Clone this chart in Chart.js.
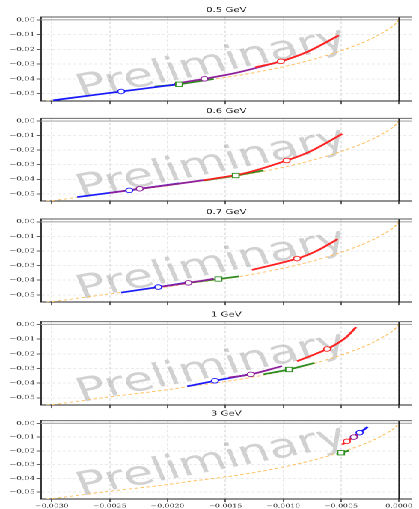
<!DOCTYPE html>
<html><head><meta charset="utf-8">
<script src="https://cdn.jsdelivr.net/npm/chart.js@4.4.1/dist/chart.umd.min.js"></script>
<style>
html,body{margin:0;padding:0;background:#fff;width:419px;height:509px;overflow:hidden;}
#stage{position:absolute;left:0;top:0;width:280px;height:509px;transform:scaleX(1.49643);transform-origin:0 0;}
.panel{position:absolute;left:0;width:280px;}
</style></head><body><div id="stage"></div>
<script>
// ---------- data ----------
const panelTitles = ["0.5 GeV", "0.6 GeV", "0.7 GeV", "1 GeV", "3 GeV"];
const xTickValues = [-0.0030, -0.0025, -0.0020, -0.0015, -0.0010, -0.0005, 0.0];
const xTickLabels = ["\u22120.0030", "\u22120.0025", "\u22120.0020", "\u22120.0015", "\u22120.0010", "\u22120.0005", "0.0000"];
const yTickValues = [0.00, -0.01, -0.02, -0.03, -0.04, -0.05];
const yTickLabels = ["0.00", "\u22120.01", "\u22120.02", "\u22120.03", "\u22120.04", "\u22120.05"];

const orangeCurve = [[-0.0031,-0.0555],[-0.0030,-0.0547],[-0.0025,-0.0494],[-0.0020,-0.0445],[-0.0018,-0.0421],
  [-0.0015,-0.0390],[-0.0012,-0.0350],[-0.0010,-0.0318],[-0.0008,-0.0280],[-0.0006,-0.0235],[-0.0005,-0.0209],
  [-0.0004,-0.0181],[-0.0003,-0.0150],[-0.0002,-0.0113],[-0.0001,-0.0068],[-0.00005,-0.0042],[-0.00002,-0.0018],[0.0,0.0]];

// 0.5 GeV
const blue05   = [[-0.00299,-0.0545],[-0.0027,-0.0515],[-0.0024,-0.0485],[-0.0021,-0.0455],[-0.0019,-0.0435]];
const purple05 = [[-0.00194,-0.0432],[-0.00168,-0.0399],[-0.0014,-0.0358],[-0.00101,-0.0279]];
const green05  = [[-0.00211,-0.0452],[-0.0019,-0.0436],[-0.0016,-0.0400]];
const red05    = [[-0.00124,-0.0321],[-0.00102,-0.0281],[-0.00079,-0.0216],[-0.00052,-0.0106]];
const marks05  = [[-0.0024,-0.0485],[-0.00168,-0.0399],[-0.0019,-0.0436],[-0.00102,-0.0281]];
// 0.6 GeV
const blue06   = [[-0.00278,-0.0522],[-0.00233,-0.0476],[-0.0021,-0.0450],[-0.0019,-0.0428]];
const purple06 = [[-0.0025,-0.0494],[-0.00224,-0.0465],[-0.0019,-0.0430],[-0.00168,-0.0405]];
const green06  = [[-0.00169,-0.0409],[-0.00141,-0.0374],[-0.00117,-0.0339]];
const red06    = [[-0.00169,-0.0407],[-0.00132,-0.0356],[-0.00097,-0.0271],[-0.00076,-0.0206],[-0.00049,-0.0088]];
const marks06  = [[-0.00233,-0.0476],[-0.00224,-0.0465],[-0.00141,-0.0374],[-0.00097,-0.0271]];
// 0.7 GeV
const blue07   = [[-0.0024,-0.0485],[-0.00208,-0.0447],[-0.0018,-0.0412]];
const purple07 = [[-0.00205,-0.0444],[-0.00182,-0.0418],[-0.0016,-0.0390]];
const green07  = [[-0.0018,-0.0416],[-0.00156,-0.0392],[-0.00138,-0.0374]];
const red07    = [[-0.00127,-0.0330],[-0.00088,-0.0252],[-0.00070,-0.0195],[-0.00053,-0.0119]];
const marks07  = [[-0.00208,-0.0447],[-0.00182,-0.0418],[-0.00156,-0.0392],[-0.00088,-0.0252]];
// 1 GeV
const blue1    = [[-0.00183,-0.0422],[-0.00159,-0.0384],[-0.0013,-0.0342]];
const purple1  = [[-0.00147,-0.0362],[-0.00128,-0.0340],[-0.00101,-0.0284]];
const green1   = [[-0.00117,-0.0340],[-0.00095,-0.0307],[-0.00073,-0.0262]];
const red1     = [[-0.00088,-0.0251],[-0.00062,-0.0167],[-0.00047,-0.0096],[-0.00037,-0.0018]];
const marks1   = [[-0.00159,-0.0384],[-0.00128,-0.0340],[-0.00095,-0.0307],[-0.00062,-0.0167]];
// 3 GeV
const blue3    = [[-0.00041,-0.0104],[-0.00034,-0.0068],[-0.00027,-0.0026]];
const purple3  = [[-0.00043,-0.0118],[-0.00039,-0.0100],[-0.00036,-0.0085]];
const green3   = [[-0.00054,-0.0226],[-0.0005,-0.0214],[-0.00043,-0.0198]];
const red3     = [[-0.00049,-0.0155],[-0.00045,-0.0131],[-0.00035,-0.0076]];
const marks3   = [[-0.00034,-0.0068],[-0.00039,-0.0100],[-0.0005,-0.0214],[-0.00045,-0.0131]];

// ---------- styles / layout ----------
const COL = {blue:'#1a1aff', purple:'#8e1f9a', green:'#2e8b1f', red:'#ff2222', orange:'#ffbf5e'};
const panelTop = [0, 101, 202, 304, 403];
const panelH   = [106, 105, 105, 106, 106];
const padTop   = [17, 17.3, 17, 17.7, 17.7];

const panels = [
  {blue:blue05, purple:purple05, green:green05, red:red05, marks:marks05},
  {blue:blue06, purple:purple06, green:green06, red:red06, marks:marks06},
  {blue:blue07, purple:purple07, green:green07, red:red07, marks:marks07},
  {blue:blue1,  purple:purple1,  green:green1,  red:red1,  marks:marks1},
  {blue:blue3,  purple:purple3,  green:green3,  red:red3,  marks:marks3}
];

const toXY = arr => arr.map(p => ({x:p[0], y:p[1]}));

const decor = {
  id: 'decor',
  beforeDatasetsDraw(chart) {
    const {ctx, chartArea:a} = chart;
    // watermark
    ctx.save();
    ctx.beginPath(); ctx.rect(a.left, a.top, a.right - a.left, a.bottom - a.top); ctx.clip();
    ctx.translate(a.left + 27, a.bottom - 3);
    ctx.rotate(-16 * Math.PI / 180);
    ctx.font = '33px "DejaVu Sans"';
    ctx.fillStyle = 'rgba(140,140,140,0.40)';
    ctx.textBaseline = 'alphabetic';
    ctx.textAlign = 'left';
    ctx.fillText('Preliminary', 0, 0);
    ctx.restore();
    // y = 0 line
    const y0 = chart.scales.y.getPixelForValue(0);
    ctx.save();
    ctx.strokeStyle = '#a8a8a8'; ctx.lineWidth = 1.1;
    ctx.beginPath(); ctx.moveTo(a.left, y0); ctx.lineTo(a.right, y0); ctx.stroke();
    ctx.restore();
  },
  afterDatasetsDraw(chart) {
    const {ctx, chartArea:a} = chart;
    const x0 = chart.scales.x.getPixelForValue(0);
    ctx.save();
    ctx.strokeStyle = '#111'; ctx.lineWidth = 0.75;
    ctx.beginPath(); ctx.moveTo(x0, a.top); ctx.lineTo(x0, a.bottom); ctx.stroke();
    ctx.strokeStyle = '#555'; ctx.lineWidth = 0.9;
    ctx.beginPath(); ctx.moveTo(a.left, a.top); ctx.lineTo(a.right, a.top); ctx.stroke();
    ctx.restore();
  },
  afterDraw(chart, args, opts) {
    const {ctx, chartArea:a} = chart;
    ctx.save();
    ctx.font = '6.8px "DejaVu Sans"';
    ctx.fillStyle = '#222';
    ctx.textAlign = 'center';
    ctx.textBaseline = 'middle';
    ctx.fillText(opts.title, (a.left + a.right) / 2, a.top - 7);
    ctx.restore();
  }
};

const stage = document.getElementById('stage');
panels.forEach((p, i) => {
  const isLast = i === panels.length - 1;
  const wrap = document.createElement('div');
  wrap.className = 'panel';
  wrap.style.top = panelTop[i] + 'px';
  wrap.style.height = panelH[i] + 'px';
  const cv = document.createElement('canvas');
  wrap.appendChild(cv);
  stage.appendChild(wrap);

  const lineDs = (data, color) => ({
    data: toXY(data), showLine: true, borderColor: color, borderWidth: 1.7,
    pointRadius: 0, tension: 0.35, fill: false
  });

  new Chart(cv, {
    type: 'scatter',
    data: {
      datasets: [
        {
          data: toXY(p.marks), showLine: false,
          pointStyle: ['circle', 'circle', 'rect', 'circle'],
          pointRadius: [2.3, 2.3, 3.1, 2.3],
          pointBorderColor: [COL.blue, COL.purple, COL.green, COL.red],
          pointBackgroundColor: '#ffffff', pointBorderWidth: 0.9
        },
        lineDs(p.red, COL.red),
        lineDs(p.purple, COL.purple),
        lineDs(p.blue, COL.blue),
        lineDs(p.green, COL.green),
        {
          data: toXY(orangeCurve), showLine: true, borderColor: COL.orange, borderWidth: 0.9,
          borderDash: [2.4, 1.6], pointRadius: 0, cubicInterpolationMode: 'monotone', tension: 0.4
        }
      ]
    },
    options: {
      animation: false, responsive: true, maintainAspectRatio: false, devicePixelRatio: 2,
      events: [],
      layout: {padding: {top: padTop[i], left: 0, right: 0, bottom: 0}},
      plugins: {legend: {display: false}, tooltip: {enabled: false}, decor: {title: panelTitles[i]}},
      scales: {
        x: {
          type: 'linear', min: -0.003093, max: 0.00011,
          afterBuildTicks: s => { s.ticks = xTickValues.map(v => ({value: v})); },
          afterFit: s => { s.height = isLast ? 10 : 3; s.paddingLeft = 0; s.paddingRight = 0; },
          ticks: {display: isLast, autoSkip: false, maxRotation: 0, padding: 1.2,
                  font: {family: 'DejaVu Serif', size: 5.2}, color: '#333',
                  callback: (v, idx) => xTickLabels[idx]},
          grid: {color: '#d8d8d8', lineWidth: 0.6, drawTicks: true, tickLength: 3, tickColor: '#222', tickWidth: 0.7},
          border: {display: true, color: '#222', width: 0.9, dash: [2.5, 2]}
        },
        y: {
          type: 'linear', min: -0.0550, max: 0.0019,
          afterBuildTicks: s => { s.ticks = yTickValues.map(v => ({value: v})); },
          afterFit: s => { s.width = 27.4; s.paddingTop = 0; s.paddingBottom = 0; },
          ticks: {padding: 1, font: {family: 'DejaVu Serif', size: 5.6}, color: '#333',
                  callback: (v, idx) => yTickLabels[idx]},
          grid: {color: '#d8d8d8', lineWidth: 0.6, drawTicks: true, tickLength: 3, tickColor: '#222', tickWidth: 0.7},
          border: {display: true, color: '#222', width: 0.9, dash: [2, 1.5]}
        }
      }
    },
    plugins: [decor]
  });
});
</script></body></html>
